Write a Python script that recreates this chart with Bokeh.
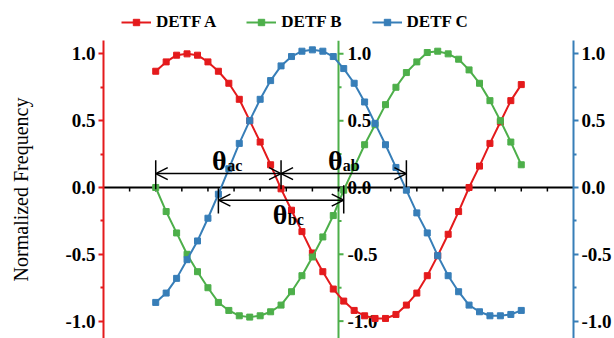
from bokeh.plotting import figure
from bokeh.layouts import column
from bokeh.models import (Range1d, LinearAxis, Legend, LegendItem, Arrow, OpenHead,
                          PrintfTickFormatter, FixedTicker)
from bokeh.core.properties import value
from bokeh.embed import file_html
from bokeh.resources import INLINE

# Phase angle of each sample (degrees)
angle = list(range(0, 360, 10))

# Normalized frequency of the three DETF resonators
detf_a = [0.87, 0.94, 0.99, 1.00, 0.99, 0.94, 0.87, 0.78, 0.66, 0.50, 0.34, 0.17,
          -0.01, -0.17, -0.33, -0.49, -0.63, -0.76, -0.85, -0.92, -0.96, -0.98,
          -0.98, -0.95, -0.88, -0.79, -0.66, -0.51, -0.35, -0.18, 0.00, 0.16,
          0.33, 0.49, 0.65, 0.77]
detf_b = [0.00, -0.18, -0.34, -0.50, -0.63, -0.75, -0.86, -0.92, -0.96, -0.97,
          -0.96, -0.93, -0.88, -0.78, -0.66, -0.52, -0.37, -0.21, -0.02, 0.15,
          0.32, 0.47, 0.62, 0.75, 0.86, 0.94, 1.01, 1.02, 1.00, 0.96, 0.88,
          0.78, 0.65, 0.50, 0.34, 0.17]
detf_c = [-0.86, -0.79, -0.68, -0.54, -0.40, -0.23, -0.05, 0.14, 0.33, 0.50,
          0.66, 0.80, 0.91, 0.98, 1.02, 1.03, 1.02, 0.98, 0.89, 0.78, 0.64,
          0.48, 0.32, 0.15, -0.02, -0.19, -0.34, -0.51, -0.66, -0.78, -0.88,
          -0.93, -0.96, -0.96, -0.95, -0.92]

series_names = ["DETF A", "DETF B", "DETF C"]
series_colors = ["#e41a1c", "#4daf4a", "#377eb8"]
series_values = [detf_a, detf_b, detf_c]

y_ticks = [-1.0, -0.5, 0.0, 0.5, 1.0]
y_minor = [-0.75, -0.25, 0.25, 0.75]
x_ticks = list(range(-25, 400, 25))

# Phase differences between zero crossings
theta_names = ["ac", "ab", "bc"]
theta_start = [0, 120, 60]
theta_end = [120, 240, 180]
theta_level = [0.104, 0.104, -0.095]
bar_x = [0, 120, 240, 60, 180]
bar_top = [0.204, 0.204, 0.204, -0.005, 0.017]
bar_bottom = [-0.013, -0.013, 0.002, -0.195, -0.195]
theta_x = [54, 165, 112]
theta_y = [0.20, 0.20, -0.20]
sub_x = [68.5, 179, 126.5]
sub_y = [0.162, 0.162, -0.238]

X_MIN, X_MAX = -50, 400
Y_MIN, Y_MAX = -1.13, 1.10
MID_AXIS_X = 175

SERIF = "Liberation Serif"

p = figure(width=614, height=298, x_range=Range1d(X_MIN, X_MAX),
           y_range=Range1d(Y_MIN, Y_MAX), output_backend="svg",
           toolbar_location=None, x_axis_location=None, y_axis_location=None,
           min_border_left=103, min_border_right=39, min_border_top=0,
           min_border_bottom=0)
p.xgrid.visible = False
p.ygrid.visible = False
p.outline_line_color = None


def style_axis(ax, color):
    ax.axis_line_color = color
    ax.axis_line_width = 2
    ax.major_tick_line_color = color
    ax.major_tick_line_width = 2
    ax.major_tick_out = 5
    ax.major_tick_in = 0
    ax.minor_tick_line_color = color
    ax.minor_tick_line_width = 2
    ax.minor_tick_out = 3
    ax.minor_tick_in = 0
    ax.major_label_text_font = SERIF
    ax.major_label_text_font_style = "bold"
    ax.major_label_text_font_size = "19px"
    ax.major_label_text_color = "black"
    ax.major_label_standoff = 3


left = LinearAxis(ticker=FixedTicker(ticks=y_ticks, minor_ticks=y_minor),
                  formatter=PrintfTickFormatter(format="%.1f"),
                  axis_label="Normalized Frequency")
style_axis(left, series_colors[0])
left.axis_label_text_font = SERIF
left.axis_label_text_font_style = "normal"
left.axis_label_text_font_size = "20px"
left.axis_label_text_color = "black"
left.axis_label_standoff = 30
p.add_layout(left, "left")

right = LinearAxis(ticker=FixedTicker(ticks=y_ticks, minor_ticks=y_minor),
                   formatter=PrintfTickFormatter(format="%.1f"))
style_axis(right, series_colors[2])
p.add_layout(right, "right")

# Middle y axis for DETF B, drawn by hand
green = series_colors[1]
p.segment(x0=[MID_AXIS_X], y0=[Y_MIN], x1=[MID_AXIS_X], y1=[Y_MAX],
          line_color=green, line_width=2)
p.segment(x0=[MID_AXIS_X] * len(y_ticks), y0=y_ticks,
          x1=[MID_AXIS_X + 4.8] * len(y_ticks), y1=y_ticks,
          line_color=green, line_width=2)
p.segment(x0=[MID_AXIS_X] * len(y_minor), y0=y_minor,
          x1=[MID_AXIS_X + 2.9] * len(y_minor), y1=y_minor,
          line_color=green, line_width=2)
p.text(x=[MID_AXIS_X + 8.5] * len(y_ticks), y=y_ticks,
       text=["%.1f" % t for t in y_ticks], text_align="left",
       text_baseline="middle", text_font=value(SERIF),
       text_font_style="bold", text_font_size="19px", text_color="black")

# Horizontal zero axis
p.segment(x0=[X_MIN], y0=[0], x1=[X_MAX], y1=[0], line_color="black", line_width=2)
p.segment(x0=x_ticks, y0=[0] * len(x_ticks), x1=x_ticks, y1=[-0.03] * len(x_ticks),
          line_color="black", line_width=1.5)

# Data series
for col, ys in zip(series_colors, series_values):
    p.line(angle, ys, line_color=col, line_width=2)
    p.scatter(angle, ys, marker="square", size=6, fill_color=col, line_color=col)

# Phase-difference markers
p.segment(x0=bar_x, y0=bar_top, x1=bar_x, y1=bar_bottom, line_color="black",
          line_width=1.5)
for xs, xe, yl in zip(theta_start, theta_end, theta_level):
    p.add_layout(Arrow(x_start=xs, y_start=yl, x_end=xe, y_end=yl,
                       line_color="black", line_width=1.5,
                       start=OpenHead(size=12, line_width=1.5, line_color="black"),
                       end=OpenHead(size=12, line_width=1.5, line_color="black")))
p.text(x=theta_x, y=theta_y, text=["\u03b8"] * 3, text_align="left",
       text_baseline="alphabetic", text_font=value(SERIF), text_font_style="bold",
       text_font_size="28px", text_color="black")
p.text(x=sub_x, y=sub_y, text=theta_names, text_align="left",
       text_baseline="alphabetic", text_font=value(SERIF), text_font_style="bold",
       text_font_size="16px", text_color="black")

# Legend strip above the plot; its swatches come from series renderers kept out of view
top = figure(width=614, height=40, x_range=Range1d(X_MIN, X_MAX),
             y_range=Range1d(10, 11), output_backend="svg", toolbar_location=None,
             x_axis_location=None, y_axis_location=None, min_border_left=0,
             min_border_right=0, min_border_top=0, min_border_bottom=0)
top.xgrid.visible = False
top.ygrid.visible = False
top.outline_line_color = None
items = []
for name, col, ys in zip(series_names, series_colors, series_values):
    ln = top.line(angle, ys, line_color=col, line_width=2)
    sc = top.scatter(angle, ys, marker="square", size=6, fill_color=col,
                     line_color=col)
    items.append(LegendItem(label=name, renderers=[ln, sc]))
legend = Legend(items=items, orientation="horizontal", location=(18, 8),
                glyph_width=30, glyph_height=16, label_standoff=5, spacing=30,
                padding=2, margin=0, border_line_color=None,
                background_fill_alpha=0, label_text_font=SERIF,
                label_text_font_style="bold", label_text_font_size="17px",
                label_text_color="black")
top.add_layout(legend)

layout = column(top, p, spacing=0)
open("out.html", "w").write(file_html(layout, INLINE))
